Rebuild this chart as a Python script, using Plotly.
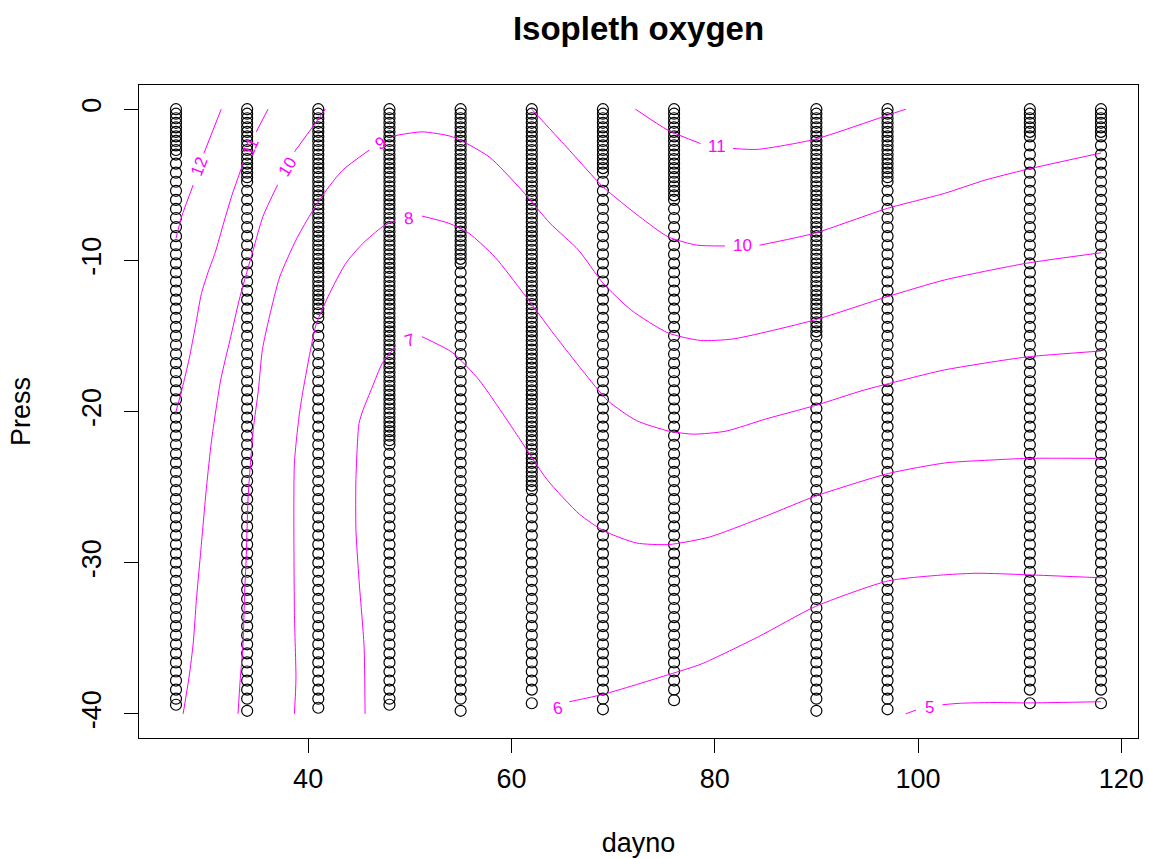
import plotly.graph_objects as go

# ---------------- data ----------------
DAYNO = [27, 34, 41, 48, 55, 62, 69, 76, 90, 97, 111, 118]
BOTTOM = [-39.4, -39.8, -39.6, -39.4, -39.8, -39.3, -39.7, -39.1, -39.8, -39.7, -39.3, -39.3]
DENSE_TO = [-3.0, -5.0, -14.0, -22.0, -10.0, -25.0, -4.0, -6.0, -15.0, -5.0, -1.5, -2.0]

PRESS_LEVELS = [0.0, -0.6, -1.2, -1.8, -2.4, -3.0, -3.6, -4.2, -4.8, -5.4, -6.0, -6.6,
                -7.2, -7.8, -8.4, -9.0, -9.6, -10.2, -10.8, -11.4, -12.0, -12.6, -13.2,
                -13.8, -14.4, -15.0, -15.6, -16.2, -16.8, -17.4, -18.0, -18.6, -19.2,
                -19.8, -20.4, -21.0, -21.6, -22.2, -22.8, -23.4, -24.0, -24.6, -25.2,
                -25.8, -26.4, -27.0, -27.6, -28.2, -28.8, -29.4, -30.0, -30.6, -31.2,
                -31.8, -32.4, -33.0, -33.6, -34.2, -34.8, -35.4, -36.0, -36.6, -37.2,
                -37.8, -38.4, -39.0]
EXTRA_LEVELS = [-0.3, -0.9, -1.5, -2.1, -2.7, -3.3, -3.9, -4.5, -5.1, -5.7, -6.3, -6.9,
                -7.5, -8.1, -8.7, -9.3, -9.9, -10.5, -11.1, -11.7, -12.3, -12.9, -13.5,
                -14.1, -14.7, -15.3, -15.9, -16.5, -17.1, -17.7, -18.3, -18.9, -19.5,
                -20.1, -20.7, -21.3, -21.9, -22.5, -23.1, -23.7, -24.3, -24.9]

# isopleths (dayno, pressure); None = gap where the label sits
ISO12_X = [31.45, 29.74, None, 28.69, 27.55, 27.0]
ISO12_Y = [0.0, -2.93, None, -5.02, -7.12, -8.55]

ISO11A_X = [36.05, 34.9, None, 33.65, 32.5, 31.7, 30.85, 30.2, 29.5, 28.9, 28.3, 27.6, 27.0]
ISO11A_Y = [0.0, -1.5, None, -3.5, -5.7, -7.5, -9.5, -10.7, -12.2, -14.4, -16.5, -18.5, -20.0]

ISO11B_X = [72.2, 75.4, 78.6, None, 81.8, 84.2, 89.8, 97.0, 98.8]
ISO11B_Y = [0.0, -1.39, -2.27, None, -2.6, -2.66, -2.0, -0.4, 0.0]

ISO10A_X = [41.7, 38.66, None, 37.0, 35.55, 34.6, 33.3, 32.3, 31.4, 30.5, 30.0, 29.4, 29.0, 28.7, 28.3, 27.7]
ISO10A_Y = [0.0, -2.82, None, -5.0, -7.1, -9.3, -12.4, -15.3, -17.9, -21.9, -25.0, -29.5, -32.5, -35.3, -37.5, -40.0]

ISO10B_X = [62.0, 65.4, 69.0, 72.6, 75.4, 78.2, 81.0, None, 84.4, 89.8, 97.0, 102.6, 106.6, 110.6, 118.0]
ISO10B_Y = [0.0, -2.49, -5.13, -7.11, -8.44, -8.99, -9.05, None, -9.0, -8.21, -6.56, -5.57, -4.69, -4.0, -2.9]

ISO9_X = [33.1, 33.3, 33.6, 33.75, 33.9, 34.1, 34.6, 35.1, 35.5, 36.2, 37.2, 38.8, 40.1, 41.8, 43.4, 46.0,
          None, 48.3, 51.2, 54.2, 57.8, 61.0, 63.8, 66.6, 69.0, 71.8, 75.4, 78.6, 81.8, 89.8, 97.0,
          102.6, 110.6, 118.0]
ISO9_Y = [-40.0, -37.9, -35.3, -32.0, -29.8, -25.6, -21.2, -18.6, -15.9, -13.7, -11.1, -8.66, -7.1, -5.35,
          -4.03, -2.71, None, -1.78, -1.5, -1.83, -3.15, -5.35, -7.55, -9.32, -11.5, -13.3, -14.8, -15.3,
          -15.2, -13.95, -12.4, -11.3, -10.2, -9.5]

ISO8_X = [38.65, 38.8, 38.65, 38.65, 39.15, 39.5, 40.3, 40.8, 42.1, 43.7, 45.35, 47.3, 48.6, None,
          51.2, 53.85, 55.8, 58.4, 61.2, 64.2, 67.0, 69.5, 72.3, 75.5, 77.9, 81.1, 85.0, 89.9, 94.6,
          98.6, 102.6, 110.6, 118.0]
ISO8_Y = [-40.0, -37.7, -33.3, -23.4, -20.1, -18.6, -15.7, -14.2, -12.2, -10.2, -8.9, -7.78, -7.34, None,
          -7.07, -7.55, -8.2, -9.8, -12.2, -14.9, -17.3, -19.3, -20.6, -21.3, -21.5, -21.3, -20.5, -19.6,
          -18.6, -17.9, -17.25, -16.4, -16.0]

ISO7_X = [45.6, 45.5, 45.0, 44.7, 44.7, 45.0, 45.4, 46.3, 47.3, 48.6, None, 51.2, 54.2, 56.8, 58.7,
          60.7, 63.5, 66.7, 69.1, 72.3, 75.5, 79.5, 85.1, 89.9, 97.1, 102.7, 107.5, 110.7, 118.0]
ISO7_Y = [-40.0, -35.5, -31.1, -27.8, -24.5, -20.8, -19.9, -18.4, -16.8, -15.7, None, -15.05, -16.1,
          -17.9, -19.7, -21.7, -24.5, -26.8, -27.9, -28.7, -28.8, -28.3, -26.9, -25.6, -24.1, -23.4,
          -23.2, -23.1, -23.1]

ISO6_X = [65.7, 69.1, 75.5, 78.7, 84.3, 89.9, 97.1, 102.7, 105.9, 110.7, 118.0]
ISO6_Y = [-39.2, -38.7, -37.4, -36.7, -34.9, -32.9, -31.2, -30.8, -30.7, -30.8, -31.0]

ISO5_X = [98.8, 99.8, None, 102.4, 104.2, 107.8, 110.7, 118.0]
ISO5_Y = [-40.0, -39.75, None, -39.4, -39.3, -39.25, -39.28, -39.2]

LABEL_TEXT = ["12", "11", "10", "9", "8", "7", "11", "10", "6", "5"]
LABEL_X = [29.3, 34.4, 38.0, 47.1, 49.9, 50.0, 80.2, 82.7, 64.5, 101.1]
LABEL_Y = [-3.8, -2.5, -3.8, -2.25, -7.2, -15.3, -2.45, -9.05, -39.65, -39.6]
LABEL_ANGLE = [-69, -65, -58, -31, -5, -18, 0, 0, -12, 0]

X_TICKS = [40, 60, 80, 100, 120]
Y_TICKS = [0, -10, -20, -30, -40]
Y_TICKTEXT = ["0", "-10", "-20", "-30", "-40"]

# ---------------- figure ----------------
MAG = "#FF00FF"
FONT = "Liberation Sans, Arial, sans-serif"

pts_x, pts_y = [], []
for d, bot, dense in zip(DAYNO, BOTTOM, DENSE_TO):
    ys = [p for p in PRESS_LEVELS if p > bot + 0.3] + [bot] + [p for p in EXTRA_LEVELS if p >= dense]
    pts_x += [d] * len(ys)
    pts_y += ys

fig = go.Figure()
fig.add_trace(go.Scatter(
    x=pts_x, y=pts_y, mode="markers",
    marker=dict(symbol="circle-open", size=11, color="black", line=dict(width=1.2, color="black")),
    showlegend=False, hoverinfo="x+y"))

for xs, ys in [(ISO12_X, ISO12_Y), (ISO11A_X, ISO11A_Y), (ISO11B_X, ISO11B_Y),
               (ISO10A_X, ISO10A_Y), (ISO10B_X, ISO10B_Y), (ISO9_X, ISO9_Y),
               (ISO8_X, ISO8_Y), (ISO7_X, ISO7_Y), (ISO6_X, ISO6_Y), (ISO5_X, ISO5_Y)]:
    fig.add_trace(go.Scatter(
        x=xs, y=ys, mode="lines",
        line=dict(color=MAG, width=1, shape="spline", smoothing=0.6),
        connectgaps=False, showlegend=False, hoverinfo="skip"))

for t, lx, ly, ang in zip(LABEL_TEXT, LABEL_X, LABEL_Y, LABEL_ANGLE):
    fig.add_annotation(x=lx, y=ly, text=t, showarrow=False, textangle=ang,
                       font=dict(family=FONT, size=17, color=MAG),
                       xanchor="center", yanchor="middle")

axis_common = dict(showline=True, mirror=True, linecolor="black", linewidth=1,
                   ticks="outside", ticklen=14, tickcolor="black", tickwidth=1,
                   showgrid=False, zeroline=False, ticklabeloverflow="allow",
                   tickfont=dict(family=FONT, size=27, color="black"))

fig.update_layout(
    width=1149, height=858,
    margin=dict(l=139, r=5, t=85, b=120),
    paper_bgcolor="white", plot_bgcolor="white",
    title=dict(text="<b>Isopleth oxygen</b>", x=0.5, xref="paper", xanchor="center",
               y=1 - 28 / 858, yref="container", yanchor="middle",
               font=dict(family=FONT, size=33, color="black")),
    xaxis=dict(range=[23.36, 121.64], tickmode="array", tickvals=X_TICKS,
               ticklabelstandoff=3,
               title=dict(text="dayno", font=dict(family=FONT, size=27, color="black"), standoff=40),
               **axis_common),
    yaxis=dict(range=[-41.6, 1.6], tickmode="array", tickvals=Y_TICKS, ticktext=Y_TICKTEXT,
               tickangle=-90, ticklabelstandoff=12,
               title=dict(text="Press", font=dict(family=FONT, size=27, color="black"), standoff=38),
               **axis_common),
)

fig.write_html("out.html")
